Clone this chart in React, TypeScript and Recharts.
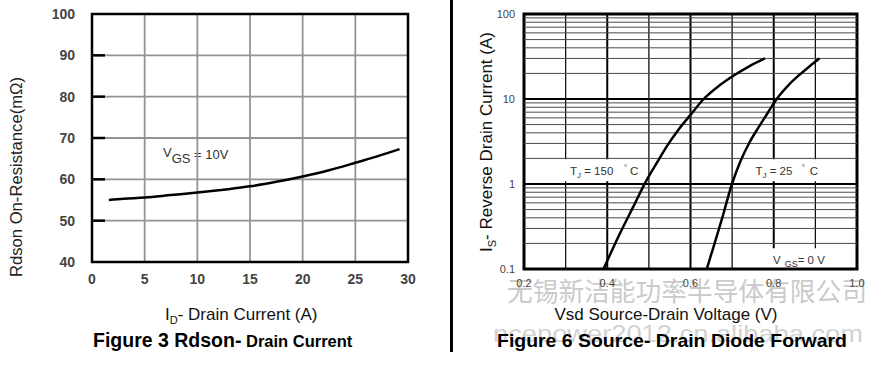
import React from 'react';
import { LineChart, Line, XAxis, YAxis, CartesianGrid, ReferenceArea, ReferenceLine } from 'recharts';

// Figure 3: Rdson vs drain current (VGS = 10V)
const drainCurrent = [1.6, 3, 5, 7.5, 10, 12.5, 15, 17.5, 20, 22.5, 25, 27, 29.2];
const rdson = [55.0, 55.3, 55.6, 56.2, 56.8, 57.5, 58.3, 59.4, 60.7, 62.2, 64.0, 65.5, 67.3];
const rdsonXTicks = [0, 5, 10, 15, 20, 25, 30];
const rdsonYTicks = [40, 50, 60, 70, 80, 90, 100];

// Figure 6: source-drain diode forward
const vsd150 = [0.391, 0.431, 0.463, 0.491, 0.519, 0.543, 0.571, 0.6, 0.63, 0.67, 0.703, 0.74, 0.779];
const is150 = [0.1, 0.265, 0.545, 1.03, 1.77, 2.77, 4.35, 6.5, 9.8, 14.5, 18.8, 24.1, 30];
const vsd25 = [0.639, 0.655, 0.675, 0.699, 0.72, 0.742, 0.763, 0.785, 0.807, 0.835, 0.863, 0.885, 0.91];
const is25 = [0.1, 0.18, 0.38, 0.98, 1.85, 3.1, 4.6, 6.8, 10, 14.5, 19.5, 24, 30];
const vsdTicks = [0.2, 0.4, 0.6, 0.8, 1.0];
const isTicks = [0.1, 1, 10, 100];
const vsdMajorGrid = [0.4, 0.6, 0.8];
const vsdMinorGrid = [0.3, 0.5, 0.7, 0.9];
const isMajorGrid = [1, 10];
const isMinorGrid = [0.2, 0.3, 0.4, 0.5, 0.6, 0.7, 0.8, 0.9, 2, 3, 4, 5, 6, 7, 8, 9, 20, 30, 40, 50, 60, 70, 80, 90];

const font = '"Liberation Sans", Arial, sans-serif';

const rdsonData = drainCurrent.map((id, i) => ({ id, r: rdson[i] }));
const diode150 = vsd150.map((v, i) => ({ v, i: is150[i] }));
const diode25 = vsd25.map((v, i) => ({ v, i: is25[i] }));

function RdsonYTick(props: any) {
  const { x, y, payload } = props;
  const inner = payload.value > 40 && payload.value < 100;
  return (
    <g>
      {inner && <line x1={x + 17} x2={x + 30} y1={y} y2={y} stroke="#000" strokeWidth={2.5} />}
      <text x={x} y={y} dy="0.35em" textAnchor="end" fontSize={14} fontWeight="bold" fill="#444" fontFamily={font}>
        {payload.value}
      </text>
    </g>
  );
}

const txt = { fontFamily: font, fontSize: 11.5, fill: '#333' };

function Tj150Label({ viewBox }: any) {
  const { x, y } = viewBox;
  return (
    <text x={x + 8.5} y={y + 15.4} {...txt}>
      T<tspan dy={3} fontSize={8}>J</tspan>
      <tspan dy={-3}> = 150</tspan>
      <tspan x={x + 62.5} dy={-5} fontSize={8}>°</tspan>
      <tspan x={x + 68.5} dy={5}>C</tspan>
    </text>
  );
}

function Tj25Label({ viewBox }: any) {
  const { x, y } = viewBox;
  return (
    <text x={x + 4.6} y={y + 15.4} {...txt}>
      T<tspan dy={3} fontSize={8}>J</tspan>
      <tspan dy={-3}> = 25</tspan>
      <tspan x={x + 51} dy={-5} fontSize={8}>°</tspan>
      <tspan x={x + 59} dy={5}>C</tspan>
    </text>
  );
}

function VgsLabel({ viewBox }: any) {
  const { x, y } = viewBox;
  return (
    <text x={x + 7.6} y={y + 15.4} {...txt}>
      V<tspan dx={4} dy={3} fontSize={9}>GS</tspan>
      <tspan dy={-3}>= 0 V</tspan>
    </text>
  );
}

export default function App() {
  return (
    <div style={{ position: 'absolute', left: 0, top: 0, width: 895, height: 369, background: '#fff', overflow: 'hidden' }}>
      <svg width={895} height={369} style={{ position: 'absolute', left: 0, top: 0 }} fontFamily={font}>
        {/* watermarks */}
        <text x={507} y={301} fontSize={26} fill="#cacaca" fontFamily='"Noto Sans CJK SC", sans-serif' textLength={360} lengthAdjust="spacingAndGlyphs">
          无锡新洁能功率半导体有限公司
        </text>
        <text x={493} y={342} fontSize={24} fill="#d2d2d2" textLength={370} lengthAdjust="spacingAndGlyphs">
          ncepower2012.cn.alibaba.com
        </text>

        <rect x={450} y={0} width={3} height={352} fill="#000" />

        {/* Figure 3 titles */}
        <text transform="translate(21.5,177) rotate(-90)" textAnchor="middle" fontSize={16} fill="#222" textLength={200} lengthAdjust="spacingAndGlyphs">
          Rdson On-Resistance(mΩ)
        </text>
        <text x={165} y={320} fontSize={17} fill="#111">
          I<tspan dy={4} fontSize={11}>D</tspan>
          <tspan dy={-4}>- Drain Current (A)</tspan>
        </text>
        <text x={93} y={347} fontSize={19.5} fontWeight="bold" fill="#000">
          Figure 3 Rdson-<tspan fontSize={16.5}> Drain Current</tspan>
        </text>
        <text x={163} y={157} fontSize={13} fill="#333">
          V<tspan dy={6}>GS</tspan>
          <tspan dy={-4}> = 10V</tspan>
        </text>

        {/* Figure 6 titles */}
        <text transform="translate(492,142) rotate(-90)" textAnchor="middle" fontSize={17} fill="#111">
          I<tspan dy={4} fontSize={11}>S</tspan>
          <tspan dy={-4}>- Reverse Drain Current (A)</tspan>
        </text>
        <text x={666} y={320} textAnchor="middle" fontSize={17} fill="#111" textLength={223} lengthAdjust="spacingAndGlyphs">
          Vsd Source-Drain Voltage (V)
        </text>
        <text x={497} y={347} fontSize={19} fontWeight="bold" fill="#000" textLength={350} lengthAdjust="spacingAndGlyphs">
          Figure 6 Source- Drain Diode Forward
        </text>
      </svg>

      <div style={{ position: 'absolute', left: 0, top: 0 }}>
        <LineChart width={440} height={300} data={rdsonData} margin={{ top: 14, right: 32, bottom: 8, left: 32 }}>
          <CartesianGrid stroke="#939393" strokeWidth={1.8} />
          <XAxis
            dataKey="id"
            type="number"
            domain={[0, 30]}
            ticks={rdsonXTicks}
            height={30}
            axisLine={false}
            tickLine={false}
            tickSize={0}
            tickMargin={12}
            tick={{ fontSize: 14, fontWeight: 'bold', fill: '#444', fontFamily: font }}
          />
          <YAxis
            type="number"
            domain={[40, 100]}
            ticks={rdsonYTicks}
            width={60}
            axisLine={false}
            tickLine={false}
            tickSize={0}
            tickMargin={17}
            tick={(p: any) => <RdsonYTick {...p} />}
          />
          <ReferenceArea x1={0} x2={30} y1={40} y2={100} fill="none" stroke="#000" strokeWidth={2.5} />
          <Line dataKey="r" type="monotone" stroke="#000" strokeWidth={2.5} dot={false} isAnimationActive={false} />
        </LineChart>
      </div>

      <div style={{ position: 'absolute', left: 450, top: 0 }}>
        <LineChart width={445} height={300} margin={{ top: 14, right: 38, bottom: 1, left: 34 }}>
          <CartesianGrid vertical={false} horizontalValues={isMajorGrid} stroke="#000" strokeWidth={2} />
          <CartesianGrid horizontal={false} verticalValues={vsdMinorGrid} stroke="#111" strokeWidth={1.3} />
          <CartesianGrid horizontal={false} verticalValues={vsdMajorGrid} stroke="#000" strokeWidth={2} />
          <XAxis
            dataKey="v"
            type="number"
            domain={[0.2, 1.0]}
            ticks={vsdTicks}
            tickFormatter={(v: number) => v.toFixed(1)}
            height={30}
            axisLine={false}
            tickLine={false}
            tickSize={0}
            tickMargin={10}
            tick={{ fontSize: 11, fill: '#444', fontFamily: font }}
          />
          <YAxis
            type="number"
            scale="log"
            domain={[0.1, 100]}
            allowDataOverflow
            ticks={isTicks}
            tickFormatter={(v: number) => String(v)}
            width={40}
            axisLine={false}
            tickLine={false}
            tickSize={0}
            tickMargin={9}
            tick={{ fontSize: 11, fill: '#444', fontFamily: font }}
          />
          {isMinorGrid.map((g) => (
            <ReferenceLine key={g} y={g} stroke="#4a4a4a" strokeWidth={1} />
          ))}
          <ReferenceArea x1={0.29} x2={0.485} y1={1.08} y2={1.95} fill="#fff" fillOpacity={1} stroke="none" label={(p: any) => <Tj150Label {...p} />} />
          <ReferenceArea x1={0.745} x2={0.93} y1={1.08} y2={1.95} fill="#fff" fillOpacity={1} stroke="none" label={(p: any) => <Tj25Label {...p} />} />
          <ReferenceArea x1={0.78} x2={1.0} y1={0.1} y2={0.175} fill="#fff" fillOpacity={1} stroke="none" label={(p: any) => <VgsLabel {...p} />} />
          <ReferenceArea x1={0.2} x2={1.0} y1={0.1} y2={100} fill="none" stroke="#000" strokeWidth={3} />
          <Line data={diode150} dataKey="i" type="monotone" stroke="#000" strokeWidth={2.5} dot={false} isAnimationActive={false} />
          <Line data={diode25} dataKey="i" type="monotone" stroke="#000" strokeWidth={2.5} dot={false} isAnimationActive={false} />
        </LineChart>
      </div>
    </div>
  );
}
